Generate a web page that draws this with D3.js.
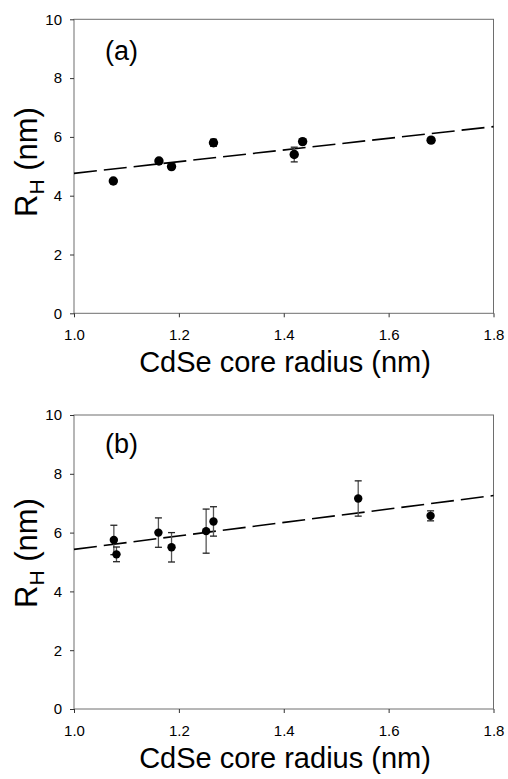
<!doctype html>
<html>
  <head>
    <meta charset="utf-8">
    <style type="text/css">
		body{
			margin: 0px;
			background: #ffffff;
		}
		svg text{
			font-family: "Liberation Sans", Arial, sans-serif;
			fill: #000000;
		}
		.axis path{
			stroke: none;
		}
		.axis line{
			stroke: #333333;
		}
		.axis text{
			font-size: 15px;
		}
    </style>
    <title>RH vs CdSe core radius</title>
    <script src="https://d3js.org/d3.v7.min.js"></script>
  </head>
  <body>
    <svg id="chart" width="508" height="779"></svg>
    <script type="text/javascript">
		// panel (a)
		var xA = [1.075, 1.162, 1.186, 1.266, 1.420, 1.436, 1.681];
		var yA = [4.50, 5.18, 4.99, 5.80, 5.40, 5.84, 5.89];
		var errA = [0.05, 0.06, 0.06, 0.12, 0.25, 0.08, 0.06];
		var fitA = [4.76, 6.35];

		// panel (b)
		var xB = [1.076, 1.081, 1.161, 1.186, 1.252, 1.266, 1.542, 1.680];
		var yB = [5.75, 5.26, 6.00, 5.50, 6.05, 6.38, 7.16, 6.57];
		var errB = [0.50, 0.25, 0.50, 0.50, 0.75, 0.50, 0.60, 0.17];
		var fitB = [5.43, 7.26];

		// shared
		var fitX = [1.0, 1.8];
		var xTicks = [1.0, 1.2, 1.4, 1.6, 1.8];
		var yTicks = [0, 2, 4, 6, 8, 10];
		var xTitle = "CdSe core radius (nm)";

		var svg = d3.select("#chart");

		function drawPanel(p){
			var g = svg.append("g");

			var scaleX = d3.scaleLinear()
				.domain([1.0, 1.8])
				.range([74, 493.5]);
			var scaleY = d3.scaleLinear()
				.domain([0, 10])
				.range([p.bottom, p.bottom - 294]);

			// frame
			g.append("rect")
				.attr("x", scaleX(1.0))
				.attr("y", scaleY(10))
				.attr("width", scaleX(1.8) - scaleX(1.0))
				.attr("height", scaleY(0) - scaleY(10))
				.attr("fill", "none")
				.attr("stroke", "#6e6e6e")
				.attr("stroke-width", 1);

			var axisX = d3.axisBottom(scaleX)
				.tickValues(xTicks)
				.tickFormat(d3.format(".1f"))
				.tickSizeInner(4)
				.tickSizeOuter(0)
				.tickPadding(12);
			var axisY = d3.axisLeft(scaleY)
				.tickValues(yTicks)
				.tickFormat(d3.format("d"))
				.tickSizeInner(4)
				.tickSizeOuter(0)
				.tickPadding(8);

			g.append("g")
				.attr("class", "axis")
				.attr("transform", "translate(0," + scaleY(0) + ")")
				.call(axisX);
			g.append("g")
				.attr("class", "axis")
				.attr("transform", "translate(" + scaleX(1.0) + ",0)")
				.call(axisY);

			// dashed fit line
			var line = d3.line()
				.x(function(d, i){ return scaleX(fitX[i]); })
				.y(function(d){ return scaleY(d); });
			g.append("path")
				.attr("d", line(p.fit))
				.attr("fill", "none")
				.attr("stroke", "#000000")
				.attr("stroke-width", 1.6)
				.attr("stroke-dasharray", "23,7");

			// error bars
			var bars = g.append("g");
			for(var i = 0; i < p.x.length; i++){
				var cx = scaleX(p.x[i]);
				var top = scaleY(p.y[i] + p.err[i]);
				var bot = scaleY(p.y[i] - p.err[i]);
				bars.append("line")
					.attr("x1", cx).attr("x2", cx)
					.attr("y1", top).attr("y2", bot)
					.attr("stroke", "#555555")
					.attr("stroke-width", 1.3);
				bars.append("line")
					.attr("x1", cx - 3.5).attr("x2", cx + 3.5)
					.attr("y1", top).attr("y2", top)
					.attr("stroke", "#222222")
					.attr("stroke-width", 1.3);
				bars.append("line")
					.attr("x1", cx - 3.5).attr("x2", cx + 3.5)
					.attr("y1", bot).attr("y2", bot)
					.attr("stroke", "#222222")
					.attr("stroke-width", 1.3);
			}

			// points
			g.append("g").selectAll("circle")
				.data(p.y)
				.enter().append("circle")
				.attr("cx", function(d, i){ return scaleX(p.x[i]); })
				.attr("cy", function(d){ return scaleY(d); })
				.attr("r", p.r)
				.attr("fill", "#000000");

			// panel label
			g.append("text")
				.attr("x", 105)
				.attr("y", p.labelY)
				.attr("font-size", "27px")
				.text(p.label);

			// x title
			g.append("text")
				.attr("x", 285)
				.attr("y", p.bottom + 59)
				.attr("text-anchor", "middle")
				.attr("font-size", "29px")
				.text(xTitle);

			// y title
			var yt = g.append("text")
				.attr("transform", "translate(37," + p.yTitleC + ") rotate(-90)")
				.attr("text-anchor", "middle")
				.attr("font-size", "31px");
			yt.append("tspan").text("R");
			yt.append("tspan")
				.attr("font-size", "21px")
				.attr("dy", 7)
				.text("H");
			yt.append("tspan")
				.attr("dy", -7)
				.text(" (nm)");
		}

		drawPanel({x: xA, y: yA, err: errA, fit: fitA, bottom: 313.3, r: 4.7,
			label: "(a)", labelY: 60, yTitleC: 162});
		drawPanel({x: xB, y: yB, err: errB, fit: fitB, bottom: 709, r: 4.2,
			label: "(b)", labelY: 453, yTitleC: 553});
    </script>
  </body>
</html>
